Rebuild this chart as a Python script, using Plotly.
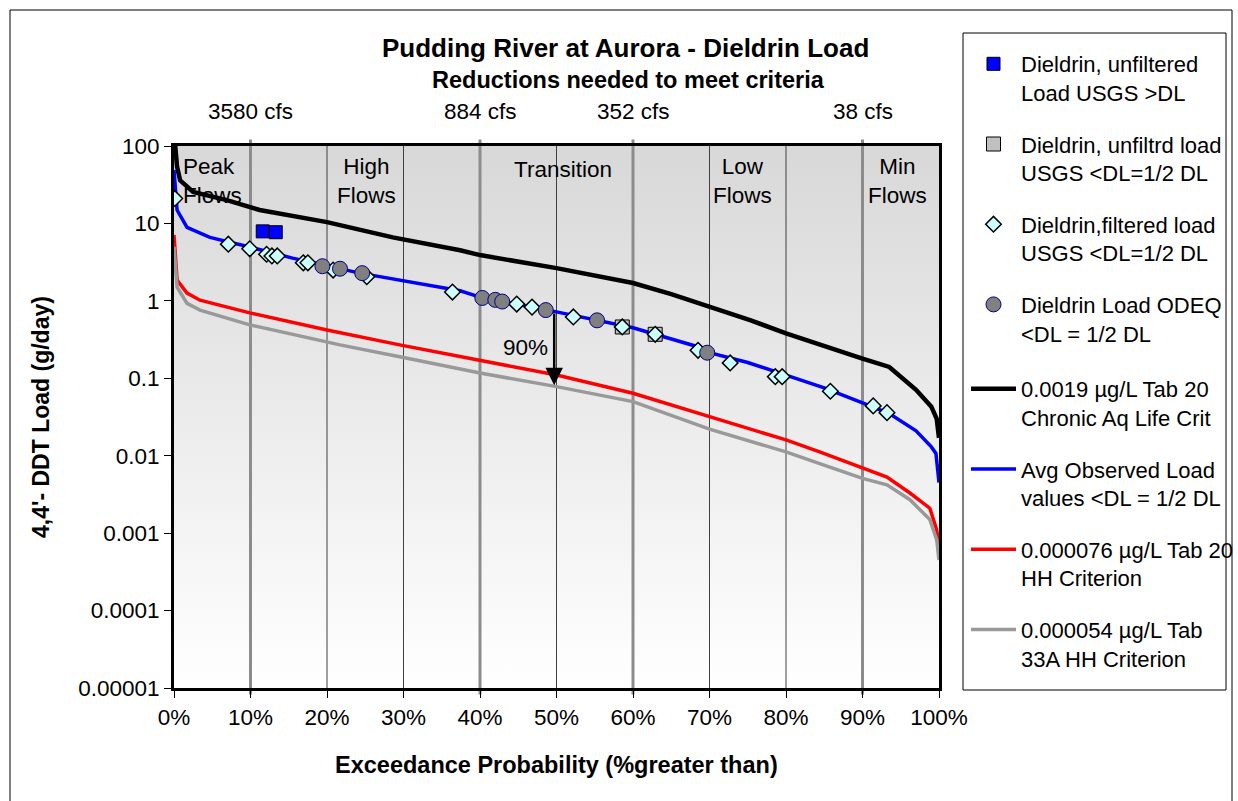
import base64
import numpy as np
import plotly.graph_objects as go

# ---------------- data ----------------
black_pct = [0, 0.4, 0.8, 2.5, 6.9, 11.2, 20, 28.6, 37.4, 40, 50, 60, 65, 68.8, 70, 75.3, 80, 85.4, 90, 93.5, 97, 99, 99.7, 100]
black_val = [150, 54, 36, 25.5, 20, 14.9, 10.4, 6.6, 4.5, 3.9, 2.65, 1.70, 1.22, 0.92, 0.83, 0.565, 0.38, 0.25, 0.18, 0.14, 0.071, 0.043, 0.03, 0.017]

blue_pct = [0, 0.4, 1.7, 3.4, 4.7, 9.9, 15.5, 24.3, 29.5, 37.4, 40, 50, 60, 68.8, 70, 75, 80, 85, 90, 93.5, 97, 99, 99.6, 100]
blue_val = [49, 14.9, 8.9, 7.5, 6.6, 4.95, 3.56, 2.28, 1.86, 1.35, 1.12, 0.72, 0.45, 0.25, 0.214, 0.16, 0.11, 0.075, 0.048, 0.035, 0.021, 0.013, 0.0107, 0.0045]

red_pct = [0, 0.4, 1.7, 3.4, 9.9, 20, 29.5, 40, 50, 60, 70, 80, 84.4, 90, 93.2, 96.2, 98.8, 99.7, 100]
red_val = [7.1, 1.86, 1.26, 1.02, 0.70, 0.42, 0.27, 0.17, 0.11, 0.064, 0.032, 0.016, 0.0112, 0.0069, 0.0053, 0.0033, 0.0021, 0.0011, 0.00065]

gray_pct = [0, 0.4, 1.7, 3.4, 9.9, 21.7, 29.5, 40, 50, 60, 70, 80, 84.4, 90, 93.2, 96.2, 98.8, 99.7, 100]
gray_val = [5.0, 1.5, 0.93, 0.76, 0.49, 0.27, 0.19, 0.117, 0.078, 0.05, 0.022, 0.0112, 0.0079, 0.0051, 0.0042, 0.0027, 0.0015, 0.00082, 0.00045]

unfilt_pct = [11.6, 13.3]
unfilt_val = [7.9, 7.7]

unfilt_dl_pct = [58.6, 62.9]
unfilt_dl_val = [0.46, 0.37]

filt_pct = [0.1, 7.1, 9.9, 12.1, 12.8, 13.5, 16.9, 17.5, 20.8, 25.2, 36.4, 44.8, 46.8, 52.2, 58.6, 62.9, 68.5, 72.7, 78.6, 79.5, 85.8, 91.4, 93.2]
filt_val = [21, 5.4, 4.7, 4.0, 3.8, 3.8, 3.1, 3.1, 2.5, 2.05, 1.3, 0.91, 0.83, 0.62, 0.46, 0.37, 0.23, 0.158, 0.105, 0.105, 0.068, 0.044, 0.036]

odeq_pct = [19.4, 21.7, 24.6, 40.3, 42.0, 42.9, 48.6, 55.3, 69.7]
odeq_val = [2.8, 2.6, 2.28, 1.09, 1.03, 0.98, 0.76, 0.56, 0.214]

x_ticks = [0, 10, 20, 30, 40, 50, 60, 70, 80, 90, 100]
x_tick_labels = ["0%", "10%", "20%", "30%", "40%", "50%", "60%", "70%", "80%", "90%", "100%"]
y_ticks = [0.00001, 0.0001, 0.001, 0.01, 0.1, 1, 10, 100]
y_tick_labels = ["0.00001", "0.0001", "0.001", "0.01", "0.1", "1", "10", "100"]

flow_pct = [10, 40, 60, 90]
flow_labels = ["3580 cfs", "884 cfs", "352 cfs", "38 cfs"]
minor_grid_pct = [20, 30, 50, 70, 80]

zone_labels = ["Peak<br>Flows", "High<br>Flows", "Transition", "Low<br>Flows", "Min<br>Flows"]
zone_pct = [0.9, 25.2, 50.8, 74.3, 94.6]

reduction_pct = 49.7
reduction_from = 0.72
reduction_to = 0.081
reduction_label = "90%"

# ---------------- layout helpers ----------------
W, H = 1238, 801
L, R, T, B = 174, 939, 146, 688
FONT = "Liberation Sans, Arial, sans-serif"
TXT = 22.5


def xp(px):
    return (px - L) / (R - L)


def yp(py):
    return (B - py) / (B - T)


fig = go.Figure()

# line traces (drawn first, below the markers); legend2
fig.add_trace(go.Scatter(x=black_pct, y=black_val, mode="lines",
                         line=dict(color="#000000", width=4.5),
                         name="0.0019 µg/L Tab 20<br>Chronic Aq Life Crit",
                         legend="legend2", legendrank=5, legendgroup="g5"))
fig.add_trace(go.Scatter(x=blue_pct, y=blue_val, mode="lines",
                         line=dict(color="#0000FF", width=3.5),
                         name="Avg Observed Load<br>values &lt;DL = 1/2 DL",
                         legend="legend2", legendrank=6, legendgroup="g6"))
fig.add_trace(go.Scatter(x=red_pct, y=red_val, mode="lines",
                         line=dict(color="#FF0000", width=3.5),
                         name="0.000076 µg/L Tab 20<br>HH Criterion",
                         legend="legend2", legendrank=7, legendgroup="g7"))
fig.add_trace(go.Scatter(x=gray_pct, y=gray_val, mode="lines",
                         line=dict(color="#999999", width=3.5),
                         name="0.000054 µg/L Tab<br>33A HH Criterion",
                         legend="legend2", legendrank=8, legendgroup="g8"))

# marker traces; legend
fig.add_trace(go.Scatter(x=unfilt_pct, y=unfilt_val, mode="markers",
                         marker=dict(symbol="square", size=13, color="#0000FF",
                                     line=dict(color="#000000", width=1)),
                         name="Dieldrin, unfiltered<br>Load USGS &gt;DL",
                         legendrank=1, legendgroup="g1"))
fig.add_trace(go.Scatter(x=unfilt_dl_pct, y=unfilt_dl_val, mode="markers",
                         marker=dict(symbol="square", size=14, color="#C0C0C0",
                                     line=dict(color="#000000", width=1)),
                         name="Dieldrin, unfiltrd load<br>USGS &lt;DL=1/2 DL",
                         legendrank=2, legendgroup="g2"))
fig.add_trace(go.Scatter(x=filt_pct, y=filt_val, mode="markers",
                         marker=dict(symbol="diamond", size=12, color="#CCFFFF",
                                     line=dict(color="#000000", width=1.5)),
                         name="Dieldrin,filtered load<br>USGS &lt;DL=1/2 DL",
                         legendrank=3, legendgroup="g3"))
fig.add_trace(go.Scatter(x=odeq_pct, y=odeq_val, mode="markers",
                         marker=dict(symbol="circle", size=15, color="#808080",
                                     line=dict(color="#000080", width=1)),
                         name="Dieldrin Load ODEQ<br>&lt;DL = 1/2 DL",
                         legendrank=4, legendgroup="g4"))

# ---------------- background gradient ----------------
svg = ('<svg xmlns="http://www.w3.org/2000/svg" width="10" height="100" viewBox="0 0 10 100" '
       'preserveAspectRatio="none"><defs><linearGradient id="g" x1="0" y1="0" x2="0" y2="1">'
       '<stop offset="0" stop-color="#d8d8d8"/><stop offset="1" stop-color="#ffffff"/>'
       '</linearGradient></defs><rect width="10" height="100" fill="url(#g)"/></svg>')
src = "data:image/svg+xml;base64," + base64.b64encode(svg.encode()).decode()

shapes = []
for p in minor_grid_pct:
    shapes.append(dict(type="line", xref="x", yref="paper", x0=p, x1=p, y0=0, y1=1,
                       line=dict(color="#404040", width=1), layer="below"))
for p in flow_pct:
    shapes.append(dict(type="line", xref="x", yref="paper", x0=p, x1=p, y0=-0.012, y1=1.012,
                       line=dict(color="#8c8c8c", width=3), layer="below"))
# legend frame
shapes.append(dict(type="rect", xref="paper", yref="paper", x0=xp(963), x1=xp(1226),
                   y0=yp(690), y1=yp(33), line=dict(color="#000000", width=1),
                   fillcolor="rgba(0,0,0,0)", layer="below"))
# outer chart frame
for x0, y0, x1, y1 in [(10, 10, 10, 801), (10, 10, 1232, 10), (1232, 10, 1232, 801)]:
    shapes.append(dict(type="line", xref="paper", yref="paper", x0=xp(x0), x1=xp(x1),
                       y0=yp(y0), y1=yp(y1), line=dict(color="#000000", width=1)))


def ann(text, x, y, size, xref="paper", yref="paper", xanchor="center", **kw):
    d = dict(text=text, xref=xref, yref=yref, x=x, y=y, showarrow=False,
             xanchor=xanchor, yanchor="middle", font=dict(size=size, family=FONT, color="#000"))
    d.update(kw)
    return d


annotations = []
annotations.append(ann("<b>Pudding River at Aurora - Dieldrin Load</b>", xp(625), yp(48), 26))
annotations.append(ann("<b>Reductions needed to meet criteria</b>", xp(628), yp(80), 23.5))
for p, lab in zip(flow_pct, flow_labels):
    annotations.append(ann(lab, p, yp(112), TXT, xref="x"))
for i, (p, lab) in enumerate(zip(zone_pct, zone_labels)):
    ypos = yp(170) if "<br>" not in lab else yp(181)
    annotations.append(ann(lab, p, ypos, TXT, xref="x",
                           xanchor="left" if i == 0 else "center",
                           align="left" if i == 0 else "center"))
# axis titles
annotations.append(ann("<b>Exceedance Probability (%greater than)</b>", xp(556), yp(765), 23.5))
annotations.append(ann("<b>4,4'- DDT Load (g/day)</b>", xp(41), yp(417), 23, textangle=-90))
# reduction arrow
annotations.append(dict(x=reduction_pct, y=np.log10(reduction_to), ax=reduction_pct, ay=np.log10(reduction_from),
                        xref="x", yref="y", axref="x", ayref="y", text="", showarrow=True,
                        arrowhead=2, arrowsize=1.4, arrowwidth=2.5, arrowcolor="#000000"))
annotations.append(ann(reduction_label, reduction_pct - 0.6, np.log10(0.25), TXT,
                       xref="x", yref="y", xanchor="right"))

legend_common = dict(xanchor="left", yanchor="top", bgcolor="rgba(0,0,0,0)", borderwidth=0,
                     valign="top", tracegroupgap=20, itemwidth=45,
                     font=dict(size=22, family=FONT, color="#000"))

fig.update_layout(
    width=W, height=H,
    margin=dict(l=L, r=W - R, t=T, b=H - B, autoexpand=False),
    paper_bgcolor="#ffffff", plot_bgcolor="rgba(0,0,0,0)",
    font=dict(family=FONT, size=TXT, color="#000"),
    showlegend=True,
    legend=dict(x=xp(966), y=yp(43), **legend_common),
    legend2=dict(x=xp(966), y=yp(368), **legend_common),
    images=[dict(source=src, xref="paper", yref="paper", x=0, y=1, sizex=1, sizey=1,
                 xanchor="left", yanchor="top", sizing="stretch", layer="below")],
    shapes=shapes, annotations=annotations,
)
fig.update_xaxes(range=[0, 100], tickvals=x_ticks, ticktext=x_tick_labels, showgrid=False, zeroline=False,
                 showline=True, linecolor="#000", linewidth=3, mirror=True,
                 ticks="outside", ticklen=7, tickwidth=1, tickcolor="#000",
                 tickfont=dict(size=TXT, family=FONT, color="#000"))
fig.update_yaxes(type="log", range=[-5, 2], tickvals=y_ticks, ticktext=y_tick_labels, showgrid=False,
                 zeroline=False, showline=True, linecolor="#000", linewidth=3, mirror=True,
                 ticks="outside", ticklen=7, tickwidth=1, tickcolor="#000",
                 tickfont=dict(size=TXT, family=FONT, color="#000"))

fig.write_html("out.html", config={"displayModeBar": False},
               post_script="document.body.style.margin='0';")
